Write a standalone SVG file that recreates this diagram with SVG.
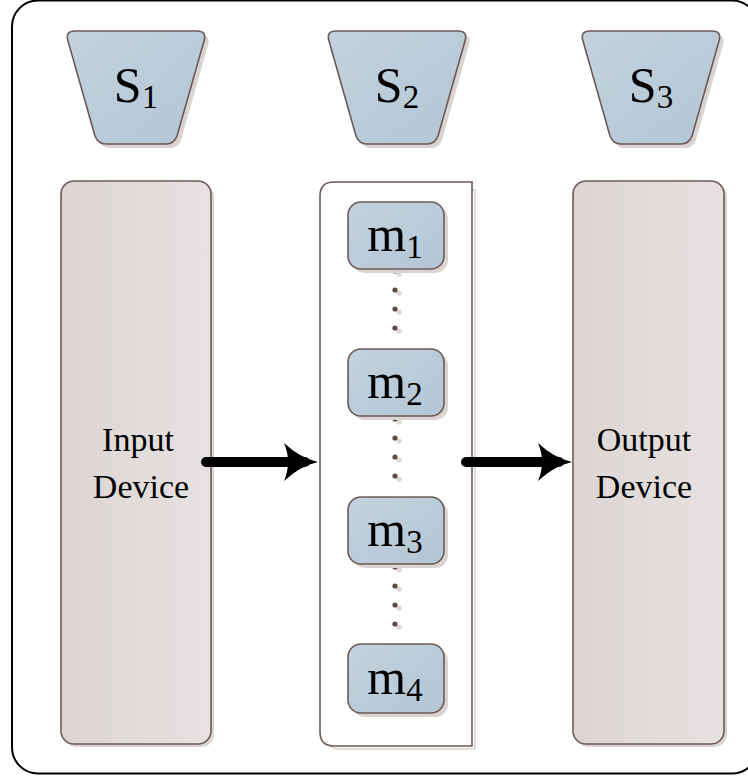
<svg xmlns="http://www.w3.org/2000/svg" width="748" height="780" viewBox="0 0 748 780">
  <style>
    .lbl { font-family: "Liberation Serif", "Times New Roman", serif; fill: #000; }
    .big { font-size: 50px; }
    .sub { font-size: 33px; }
    .dev { font-size: 34px; }
    .edge { stroke: #6b5a55; stroke-width: 1.6; }
    .shade { fill: #d9d3d1; }
    .dot { fill: #5e4b46; }
    .dotsh { fill: #dcd6d6; }
  </style>
  <defs>
    <linearGradient id="blueFill" x1="0" y1="0" x2="1" y2="1">
      <stop offset="0" stop-color="#c3d2de"/>
      <stop offset="1" stop-color="#b3c6d5"/>
    </linearGradient>
    <linearGradient id="greyFill" x1="0" y1="0" x2="1" y2="0">
      <stop offset="0" stop-color="#ddd5d3"/>
      <stop offset="1" stop-color="#e6e2e1"/>
    </linearGradient>
    <!-- trapezoid centred on x=0, top at y=0 -->
    <path id="trap" d="M -61,0 L 61,0 Q 71,0 68,10 L 41,105 Q 38,113 30,113 L -30,113 Q -38,113 -41,105 L -68,10 Q -71,0 -61,0 Z"/>
    <!-- swept-back arrowhead, tip 13px beyond the shaft end -->
    <marker id="head" viewBox="0 0 36 38" refX="21" refY="19" markerWidth="36" markerHeight="38" markerUnits="userSpaceOnUse" orient="auto">
      <path d="M 0,0 Q 16,15 34,19 Q 16,23 0,38 Q 8,19 0,0 Z" fill="#000"/>
    </marker>
  </defs>

  <rect width="748" height="780" fill="#fff"/>

  <!-- outer frame -->
  <rect x="12" y="0.5" width="746" height="773" rx="26" fill="none" stroke="#000" stroke-width="2"/>

  <!-- station headers -->
  <g id="s1">
    <use href="#trap" x="140" y="35" class="shade"/>
    <use href="#trap" x="136" y="31" fill="url(#blueFill)" class="edge"/>
    <text class="lbl" x="136" y="102" text-anchor="middle"><tspan class="big">S</tspan><tspan class="sub" dy="6">1</tspan></text>
  </g>
  <g id="s2">
    <use href="#trap" x="401" y="35" class="shade"/>
    <use href="#trap" x="397" y="31" fill="url(#blueFill)" class="edge"/>
    <text class="lbl" x="397" y="102" text-anchor="middle"><tspan class="big">S</tspan><tspan class="sub" dy="6">2</tspan></text>
  </g>
  <g id="s3">
    <use href="#trap" x="655" y="35" class="shade"/>
    <use href="#trap" x="651" y="31" fill="url(#blueFill)" class="edge"/>
    <text class="lbl" x="651" y="102" text-anchor="middle"><tspan class="big">S</tspan><tspan class="sub" dy="6">3</tspan></text>
  </g>

  <!-- input column -->
  <g id="input-device">
    <rect x="64" y="184" width="150" height="563" rx="13" class="shade"/>
    <rect x="61" y="181" width="150" height="563" rx="13" fill="url(#greyFill)" class="edge"/>
    <text class="lbl dev" x="138" y="451" text-anchor="middle">Input</text>
    <text class="lbl dev" x="141" y="498" text-anchor="middle">Device</text>
  </g>

  <!-- output column -->
  <g id="output-device">
    <rect x="576" y="184" width="151" height="563" rx="13" class="shade"/>
    <rect x="573" y="181" width="151" height="563" rx="13" fill="url(#greyFill)" class="edge"/>
    <text class="lbl dev" x="644" y="451" text-anchor="middle">Output</text>
    <text class="lbl dev" x="644" y="498" text-anchor="middle">Device</text>
  </g>

  <!-- processing container -->
  <g id="processor">
    <path d="M 475,190 L 339,190 Q 326,190 326,203 L 326,735 Q 326,749 340,749 L 475,749 Z" fill="none" stroke="#d9d2d0" stroke-width="1.5"/>
    <path d="M 472,182 L 334,182 Q 320,182 320,196 L 320,732 Q 320,746 334,746 L 472,746 Z" fill="#fff" class="edge"/>
  </g>

  <!-- dotted links between modules -->
  <g id="links">
    <g class="dotsh">
      <circle cx="399" cy="274" r="2.6"/><circle cx="399" cy="293" r="2.6"/><circle cx="399" cy="312" r="2.6"/><circle cx="399" cy="331" r="2.6"/>
      <circle cx="399" cy="422" r="2.6"/><circle cx="399" cy="441" r="2.6"/><circle cx="399" cy="460" r="2.6"/><circle cx="399" cy="479" r="2.6"/>
      <circle cx="399" cy="570" r="2.6"/><circle cx="399" cy="589" r="2.6"/><circle cx="399" cy="608" r="2.6"/><circle cx="399" cy="627" r="2.6"/>
    </g>
    <g class="dot">
      <circle cx="395" cy="271" r="2.6"/><circle cx="395" cy="290" r="2.6"/><circle cx="395" cy="309" r="2.6"/><circle cx="395" cy="328" r="2.6"/>
      <circle cx="395" cy="419" r="2.6"/><circle cx="395" cy="438" r="2.6"/><circle cx="395" cy="457" r="2.6"/><circle cx="395" cy="476" r="2.6"/>
      <circle cx="395" cy="567" r="2.6"/><circle cx="395" cy="586" r="2.6"/><circle cx="395" cy="605" r="2.6"/><circle cx="395" cy="624" r="2.6"/>
    </g>
  </g>

  <!-- modules -->
  <g id="m1">
    <rect x="352" y="206" width="96" height="67" rx="13" class="shade"/>
    <rect x="348" y="202" width="96" height="67" rx="13" fill="url(#blueFill)" class="edge"/>
    <text class="lbl" x="395" y="251" text-anchor="middle"><tspan class="big">m</tspan><tspan class="sub" dy="7">1</tspan></text>
  </g>
  <g id="m2">
    <rect x="352" y="353" width="96" height="67" rx="13" class="shade"/>
    <rect x="348" y="349" width="96" height="67" rx="13" fill="url(#blueFill)" class="edge"/>
    <text class="lbl" x="395" y="398" text-anchor="middle"><tspan class="big">m</tspan><tspan class="sub" dy="7">2</tspan></text>
  </g>
  <g id="m3">
    <rect x="352" y="501" width="96" height="67" rx="13" class="shade"/>
    <rect x="348" y="497" width="96" height="67" rx="13" fill="url(#blueFill)" class="edge"/>
    <text class="lbl" x="395" y="546" text-anchor="middle"><tspan class="big">m</tspan><tspan class="sub" dy="7">3</tspan></text>
  </g>
  <g id="m4">
    <rect x="352" y="648" width="96" height="69" rx="13" class="shade"/>
    <rect x="348" y="644" width="96" height="69" rx="13" fill="url(#blueFill)" class="edge"/>
    <text class="lbl" x="395" y="694" text-anchor="middle"><tspan class="big">m</tspan><tspan class="sub" dy="7">4</tspan></text>
  </g>

  <!-- flow arrows -->
  <g id="connectors" stroke="#000" stroke-width="10" stroke-linecap="round" fill="none">
    <path d="M 206,462 L 305,462" marker-end="url(#head)"/>
    <path d="M 466,462 L 559,462" marker-end="url(#head)"/>
  </g>
</svg>
